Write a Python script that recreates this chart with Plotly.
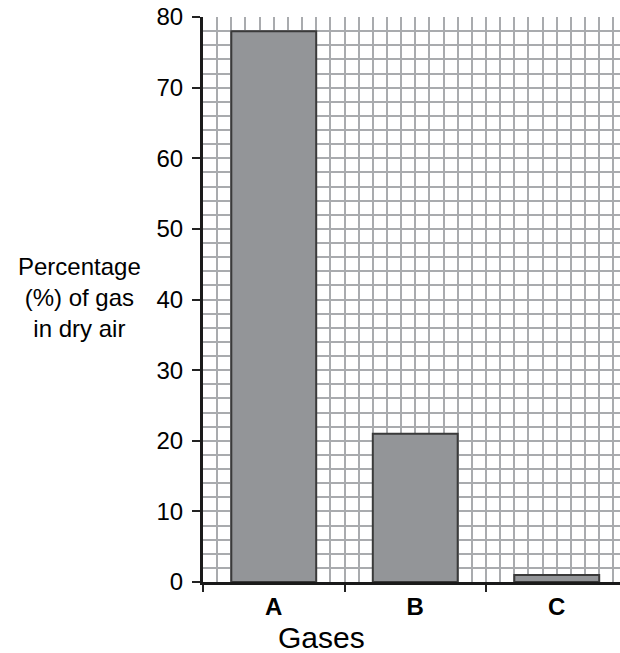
import plotly.graph_objects as go

# Data
categories = ["A", "B", "C"]
percentages = [78, 21, 1]
y_ticks = [0, 10, 20, 30, 40, 50, 60, 70, 80]
y_title_lines = ["Percentage", "(%) of gas", "in dry air"]
x_title = "Gases"

FONT = "Arial, Liberation Sans, sans-serif"
GRID = "#a9abae"
W, H = 620, 653
ML, MR, MT, MB = 203, 0, 17, 71
PW, PH = W - ML - MR, H - MT - MB

fig = go.Figure()
fig.add_trace(go.Bar(
    x=categories, y=percentages, width=0.6,
    marker=dict(color="#939598", line=dict(color="#3a3a3a", width=2)),
    showlegend=False, hoverinfo="skip",
))
# helper (empty) trace to carry the fine vertical grid axis
fig.add_trace(go.Scatter(x=[], y=[], xaxis="x2", mode="markers",
                         showlegend=False, hoverinfo="skip"))

xr = [-0.5, -0.5 + PW / 141.5]
fig.update_layout(
    width=W, height=H,
    margin=dict(l=ML, r=MR, t=MT, b=MB),
    plot_bgcolor="white", paper_bgcolor="white",
    font=dict(family=FONT, color="black"),
    xaxis=dict(
        type="category", range=xr, tickson="boundaries",
        ticks="outside", ticklen=7, tickwidth=1.5, tickcolor="#222",
        showgrid=False, showline=True, linecolor="#1a1a1a", linewidth=3,
        tickfont=dict(size=24, family=FONT, weight="bold"),
        ticklabelstandoff=1,
    ),
    xaxis2=dict(
        type="linear", overlaying="x", range=xr, showgrid=True,
        tick0=-0.5, dtick=0.1, gridcolor=GRID, gridwidth=1.5,
        showticklabels=False, ticks="", zeroline=False, showline=False,
    ),
    yaxis=dict(
        range=[0, 80], tickvals=y_ticks, ticks="outside", ticklen=8,
        tickwidth=1.5, tickcolor="#222",
        showgrid=True, gridcolor=GRID, gridwidth=1.5,
        minor=dict(dtick=2, showgrid=True, gridcolor=GRID, gridwidth=1.5),
        showline=True, linecolor="#1a1a1a", linewidth=3, zeroline=False,
        tickfont=dict(size=24, family=FONT),
        ticklabelstandoff=4, ticklabeloverflow="allow",
    ),
)

# positions below are given in window pixels
def px_x(p):
    return (p - ML) / PW

def px_y(p):
    return (H - MB - p) / PH

fig.add_annotation(text="<br>".join(y_title_lines), xref="paper", yref="paper",
                   x=px_x(79), y=px_y(297), xanchor="center", yanchor="middle",
                   align="center", showarrow=False,
                   font=dict(size=24, family=FONT, color="black"))

fig.add_annotation(text=x_title, xref="paper", yref="paper",
                   x=px_x(321), y=px_y(637), xanchor="center", yanchor="middle",
                   showarrow=False, font=dict(size=30, family=FONT, color="black"))

fig.write_html(
    "out.html",
    config={"displayModeBar": False},
    post_script="document.body.style.margin='0';document.body.style.overflow='hidden';",
)
